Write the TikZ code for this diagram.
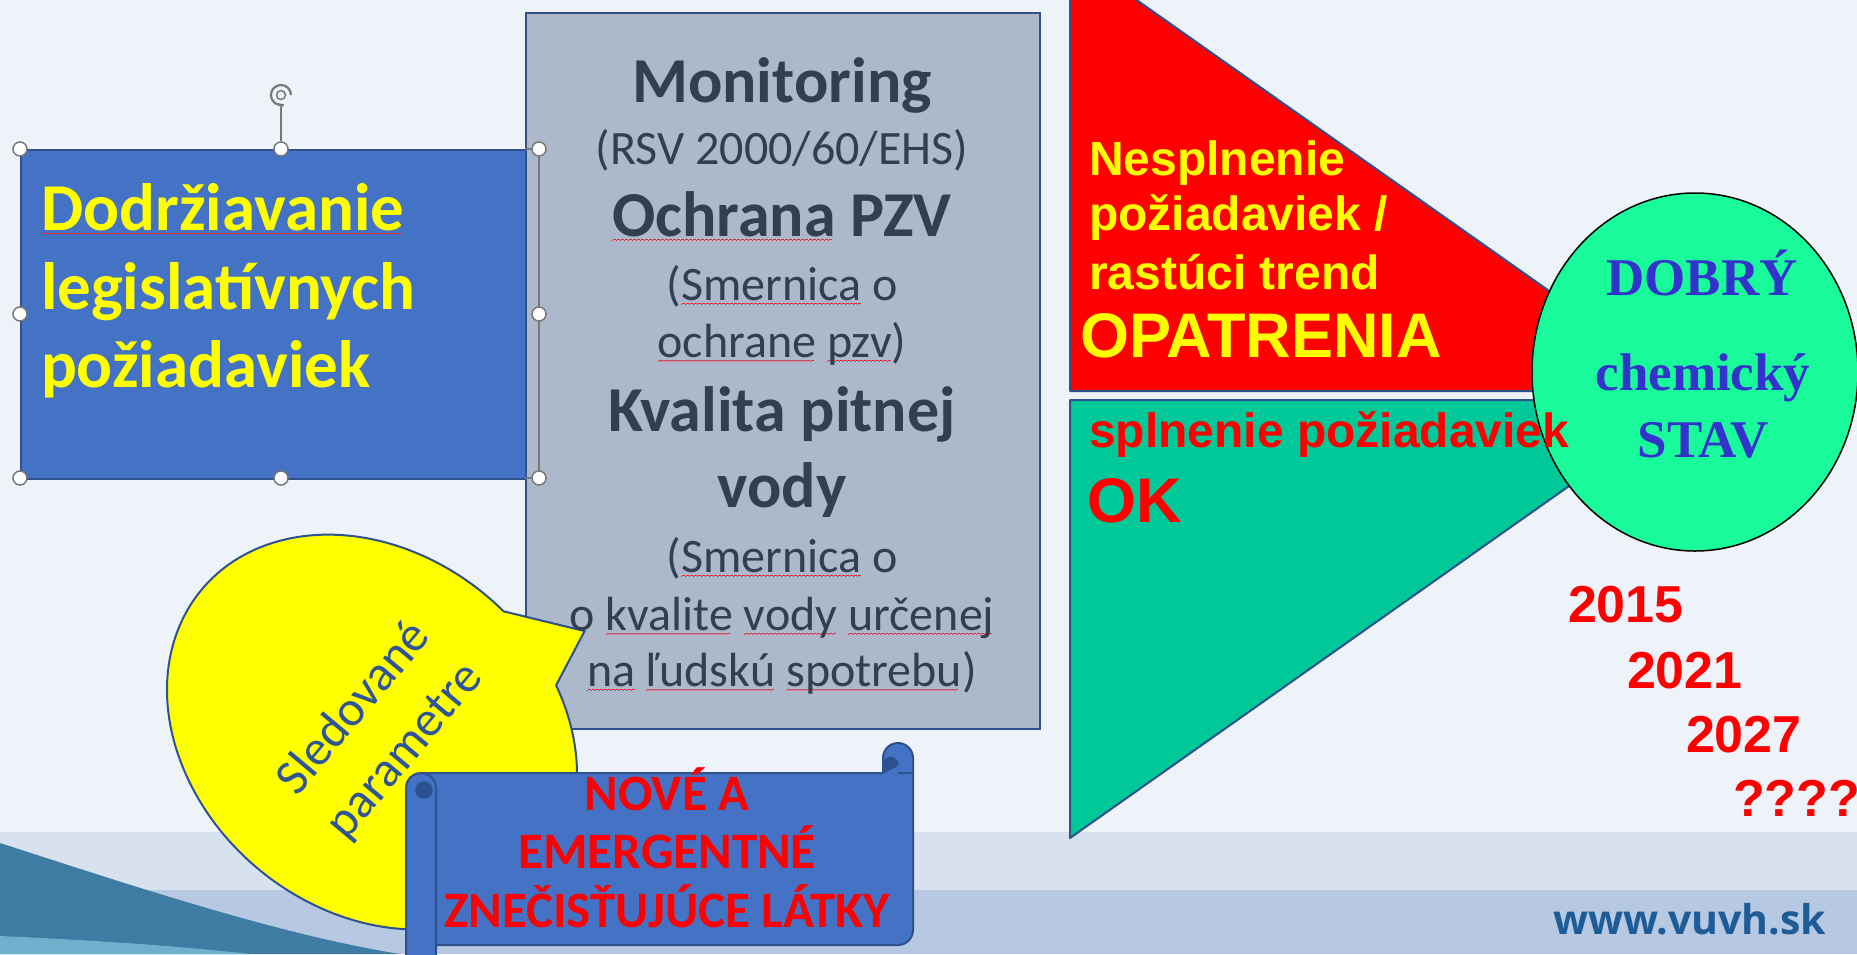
\documentclass[tikz,border=0pt]{standalone}
\usepackage{fontspec}
\setmainfont{Carlito}
\newfontfamily\arialf{Liberation Sans}
\newfontfamily\timesf{Liberation Serif}
\newfontfamily\wwwf{Open Sans}
\usetikzlibrary{arrows.meta,shapes.geometric}

\definecolor{bgc}{RGB}{238,242,249}
\definecolor{bandA}{RGB}{216,226,239}
\definecolor{bandB}{RGB}{182,200,226}
\definecolor{swooshc}{RGB}{62,124,163}
\definecolor{swooshlt}{RGB}{112,176,206}
\definecolor{boxblue}{RGB}{68,114,196}
\definecolor{bordblue}{RGB}{47,82,143}
\definecolor{grayfill}{RGB}{173,185,202}
\definecolor{graytxt}{RGB}{50,63,79}
\definecolor{yel}{RGB}{255,255,0}
\definecolor{tealg}{RGB}{0,200,152}
\definecolor{mint}{RGB}{25,250,155}
\definecolor{circtxt}{RGB}{51,51,204}
\definecolor{redt}{RGB}{255,0,0}
\definecolor{bubtxt}{RGB}{47,85,151}
\definecolor{wwwc}{RGB}{30,92,152}
\definecolor{hndc}{RGB}{120,120,120}
\definecolor{sqc}{RGB}{225,40,60}
\definecolor{curlc}{RGB}{45,80,150}

\newcommand\fsz[1]{\fontsize{#1}{#1}\selectfont}
\newsavebox\sqbox
\newcommand\wavebit{\rule[0pt]{1pt}{0.9pt}\rule[0.7pt]{1pt}{0.9pt}\rule[1.4pt]{1pt}{0.9pt}\rule[0.7pt]{1pt}{0.9pt}}
\newcommand\sq[1]{\sbox\sqbox{#1}\rlap{\raisebox{-5pt}[0pt][0pt]{\textcolor{sqc}{\leaders\hbox{\wavebit}\hskip\wd\sqbox}}}\usebox\sqbox}

\begin{document}
\begin{tikzpicture}[x=1pt,y=-1pt,
  ltxt/.style={inner sep=0, outer sep=0, anchor=base west},
  ctxt/.style={inner sep=0, outer sep=0, anchor=base},
  gt/.style={ctxt, text=graytxt},
  gtb/.style={gt, font=\bfseries\fsz{64}},
  gtr/.style={gt, font=\fsz{48}},
  tri/.style={draw=bordblue, line width=2, line join=round},
  hnd/.style={circle, draw=hndc, fill=white, line width=1.5, minimum size=14, inner sep=0},
  scrollsty/.style={fill=boxblue, draw=bordblue, line width=2, line join=round},
  yeartxt/.style={ltxt, text=redt, font=\arialf\bfseries\fsz{52}},
  redsmall/.style={ltxt, font=\arialf\bfseries\fsz{48}},
  redbig/.style={ltxt, font=\arialf\bfseries\fsz{63}},
  circt/.style={ctxt, text=circtxt, font=\timesf\bfseries\fsz{53}},
  scrolltxt/.style={ctxt, text=redt, font=\bfseries\fsz{51}}]
\useasboundingbox (0,0) rectangle (1857,954);
\clip (0,0) rectangle (1857,954);

% background
\fill[bgc] (0,0) rectangle (1857,954);
\fill[bandA] (0,832) rectangle (1857,890);
\fill[bandB] (0,890) rectangle (1857,954);
\fill[swooshc] (0,843) .. controls (130,885) and (280,935) .. (400,954) -- (0,954) -- cycle;
\fill[swooshlt] (0,936) .. controls (90,940) and (180,946) .. (250,954) -- (0,954) -- cycle;

% blue box
\node[fill=boxblue, draw=bordblue, line width=2, minimum width=519, minimum height=329,
      anchor=north west, inner sep=0] (blue) at (20,149) {};

% gray box
\node[fill=grayfill, draw=bordblue, line width=2, minimum width=514, minimum height=716,
      anchor=north west, inner sep=0] (gray) at (525,12) {};

% yellow callout
\begin{scope}[shift={(372,732)}, rotate=50]
  \filldraw[fill=yel, draw=bordblue, line width=2, line join=round]
    (30:178 and 222) arc[start angle=30, end angle=366, x radius=178, y radius=222]
    -- (214,98) -- cycle;
\end{scope}
\node[text=bubtxt, font=\fontsize{50}{66}\selectfont, align=center, rotate=50, inner sep=0]
  (bubtext) at (380,730) {Sledované\\parametre};

% gray box text
\node[gtb] (g1) at (782,102) {Monitoring};
\node[gtr] (g2) at (782,164) {(RSV 2000/60/EHS)};
\node[gtb] (g3) at (782,236) {\sq{Ochrana} PZV};
\node[gtr] (g4) at (782,300) {(\sq{Smernica} o};
\node[gtr] (g5) at (782,357) {\sq{ochrane} \sq{pzv})};
\node[gtb] (g6) at (782,431) {Kvalita pitnej};
\node[gtb] (g7) at (782,507) {vody};
\node[gtr] (g8) at (782,572) {(\sq{Smernica} o};
\node[gtr] (g9) at (782,630) {o \sq{kvalite} \sq{vody} \sq{určenej}};
\node[gtr] (g10) at (782,686) {\sq{na} \sq{ľudskú} \sq{spotrebu})};

% blue box text
\node[ltxt, text=yel, font=\bfseries\fsz{67}] (b1) at (41,230) {\sq{Dodržiavanie}};
\node[ltxt, text=yel, font=\bfseries\fsz{67}] (b2) at (41,309) {legislatívnych};
\node[ltxt, text=yel, font=\bfseries\fsz{67}] (b3) at (41,387) {požiadaviek};

% scroll
\filldraw[scrollsty] (421,773) -- (883,773) -- (883,758)
  arc[start angle=180, end angle=360, radius=15] -- (913,930)
  arc[start angle=0, end angle=90, radius=15] -- (421,945) -- cycle;
\filldraw[fill=curlc, draw=bordblue, line width=1.5] (883,773) -- (883,765)
  arc[start angle=180, end angle=360, radius=7.5] -- cycle;
\draw[draw=bordblue, line width=1.5] (898,773) -- (913,773);
\filldraw[scrollsty] (406,788) arc[start angle=180, end angle=360, radius=15]
  -- (436,960) arc[start angle=0, end angle=180, radius=15] -- cycle;
\filldraw[fill=curlc, draw=bordblue, line width=1.5] (424,790) circle[radius=8];
\node[scrolltxt] (s1) at (667,810) {NOVÉ A};
\node[scrolltxt] (s2) at (667,868) {EMERGENTNÉ};
\node[scrolltxt] (s3) at (667,927) {ZNEČISŤUJÚCE LÁTKY};

% triangles and circle
\filldraw[tri, fill=redt] (1070,-47) -- (1070,391) -- (1691,391) -- cycle;
\filldraw[tri, fill=tealg] (1070,400) -- (1070,838) -- (1691,400) -- cycle;
\node[ellipse, draw=black, line width=1.5, fill=mint, minimum width=326, minimum height=358,
      inner sep=0] (circ) at (1695,372) {};

\node[redsmall, text=yel] (r1) at (1089,175) {Nesplnenie};
\node[redsmall, text=yel] (r2) at (1089,230) {požiadaviek /};
\node[redsmall, text=yel] (r3) at (1089,289) {rastúci trend};
\node[redbig, text=yel] (r4) at (1080,357) {OPATRENIA};
\node[redsmall, text=redt] (r5) at (1089,447) {splnenie požiadaviek};
\node[redbig, text=redt] (r6) at (1087,522) {OK};

\node[circt] (c1) at (1702,295) {DOBRÝ};
\node[circt] (c2) at (1703,390) {chemický};
\node[circt] (c3) at (1703,457) {STAV};

\node[yeartxt] (y1) at (1568,622) {2015};
\node[yeartxt] (y2) at (1627,688) {2021};
\node[yeartxt] (y3) at (1686,752) {2027};
\node[yeartxt] (y4) at (1733,816) {????};

\node[ltxt, text=wwwc, font=\wwwf\bfseries\fsz{41}] (www) at (1553,934) {www.vuvh.sk};

% selection frame and handles
\draw[hndc, line width=1.5] (525,149) -- (539,149) -- (539,478) -- (525,478);
\coordinate (rotbase) at (281,108);
\node[hnd] (h1) at (20,149) {};
\node[hnd] (h2) at (281,149) {};
\node[hnd] (h3) at (539,149) {};
\node[hnd] (h4) at (20,314) {};
\node[hnd] (h5) at (539,314) {};
\node[hnd] (h6) at (20,478) {};
\node[hnd] (h7) at (281,478) {};
\node[hnd] (h8) at (539,478) {};
\draw[hndc, line width=1.5] (rotbase) -- (h2);
\node[inner sep=0, minimum size=22] (rot) at (281,95) {};
\draw[hndc, line width=2.2, -{Stealth[length=6,width=7]}]
  (291,95) arc[start angle=0, end angle=-290, radius=10];
\draw[hndc, line width=1.5] (281,95) circle[radius=4.5];
\end{tikzpicture}
\end{document}
